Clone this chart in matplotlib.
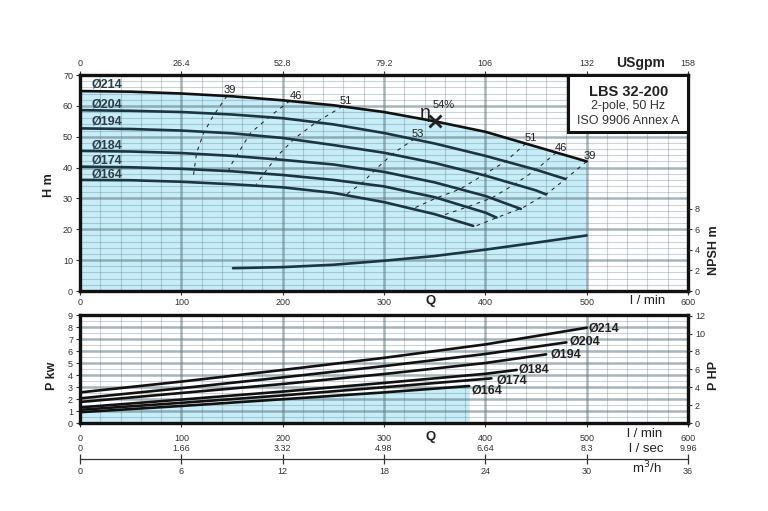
import numpy as np
import matplotlib
matplotlib.use("Agg")
import matplotlib.pyplot as plt
from matplotlib.patches import Rectangle

plt.rcParams['font.family'] = ['Liberation Sans', 'DejaVu Sans']

# ---------------- data ----------------
Q_TICKS = [0, 100, 200, 300, 400, 500, 600]
USGPM_LABELS = ["0", "26.4", "52.8", "79.2", "106", "132", "158"]
LSEC_LABELS = ["0", "1.66", "3.32", "4.98", "6.64", "8.3", "9.96"]
M3H_TICKS = [0, 6, 12, 18, 24, 30, 36]
H_TICKS = [0, 10, 20, 30, 40, 50, 60, 70]
NPSH_TICKS = [0, 2, 4, 6, 8]
P_TICKS = [0, 1, 2, 3, 4, 5, 6, 7, 8, 9]
HP_TICKS = [0, 2, 4, 6, 8, 10, 12]

DIAMETERS = ["Ø214", "Ø204", "Ø194", "Ø184", "Ø174", "Ø164"]

# head curves (Q l/min, H m)
Q214 = [0, 50, 100, 150, 200, 250, 300, 350, 400, 450, 500]
H214 = [64.8, 64.6, 64.0, 63.1, 61.8, 60.2, 58.0, 55.0, 51.6, 46.8, 42.0]
Q204 = [0, 50, 100, 150, 200, 250, 300, 350, 400, 450, 479]
H204 = [58.6, 58.4, 58.0, 57.2, 56.0, 54.0, 51.2, 47.8, 43.8, 39.3, 36.3]
Q194 = [0, 50, 100, 150, 200, 250, 300, 350, 400, 450, 460]
H194 = [52.7, 52.5, 52.0, 51.1, 49.6, 47.3, 44.8, 41.5, 37.4, 32.6, 31.3]
Q184 = [0, 50, 100, 150, 200, 250, 300, 350, 400, 435]
H184 = [45.4, 45.2, 44.7, 43.8, 42.5, 41.0, 38.6, 35.2, 30.8, 26.6]
Q174 = [0, 50, 100, 150, 200, 250, 300, 350, 400, 411]
H174 = [40.3, 40.1, 39.6, 38.8, 37.6, 36.0, 33.9, 30.4, 25.4, 23.8]
Q164 = [0, 50, 100, 150, 200, 250, 300, 350, 388]
H164 = [36.0, 35.9, 35.4, 34.6, 33.6, 31.8, 28.8, 24.9, 21.1]

# NPSH curve (Q l/min, NPSH m)
NPSH_Q = [151, 200, 250, 300, 350, 400, 450, 500]
NPSH_V = [2.22, 2.32, 2.55, 2.94, 3.40, 4.02, 4.70, 5.40]

# iso-efficiency lines (Q, H)
EFF39L_Q = [145, 131, 122, 115, 112]
EFF39L_H = [63.2, 56.5, 51.2, 44.7, 37.5]
EFF46L_Q = [207, 187, 168, 158, 148, 145]
EFF46L_H = [61.6, 56.5, 51.1, 45.7, 40.3, 37.4]
EFF51L_Q = [259, 234, 212, 194, 178, 174]
EFF51L_H = [59.8, 54.9, 49.5, 43.5, 36.5, 34.5]
EFF53_Q = [330, 309, 293, 278, 262]
EFF53_H = [49.3, 44.6, 39.8, 34.9, 31.1]
EFF51R_Q = [440, 420, 398, 375, 352, 328]
EFF51R_H = [47.8, 42.0, 37.6, 33.0, 30.2, 26.6]
EFF46R_Q = [470, 450, 429, 406, 382, 356]
EFF46R_H = [44.9, 39.3, 34.6, 30.1, 27.2, 24.3]
EFF39R_Q = [500, 481, 462, 437, 413, 390]
EFF39R_H = [42.0, 36.8, 31.8, 27.0, 24.0, 21.0]

EFF_LABELS = ["39", "46", "51", "53", "51", "46", "39"]
EFF_LABEL_Q = [148, 213, 262, 333, 445, 475, 503]
EFF_LABEL_H = [65.2, 63.3, 61.6, 50.9, 49.6, 46.3, 43.6]

BEP_Q = 350
BEP_H = 55.0
BEP_TEXT = "54%"

# power curves (Q l/min, P kW)
PQ214 = [0, 100, 200, 300, 400, 500]
P214 = [2.55, 3.45, 4.42, 5.43, 6.55, 7.94]
PQ204 = [0, 100, 200, 300, 400, 480]
P204 = [2.05, 2.90, 3.80, 4.74, 5.75, 6.72]
PQ194 = [0, 100, 200, 300, 400, 460]
P194 = [1.75, 2.50, 3.25, 4.08, 5.00, 5.72]
PQ184 = [0, 100, 200, 300, 400, 431]
P184 = [1.30, 1.95, 2.62, 3.34, 4.10, 4.42]
PQ174 = [0, 100, 200, 300, 406]
P174 = [1.10, 1.68, 2.30, 2.98, 3.72]
PQ164 = [0, 100, 200, 300, 384]
P164 = [0.90, 1.42, 1.98, 2.55, 3.08]

P_LABEL_Q = [502, 483, 464, 433, 411, 386]
P_LABEL_P = [7.9, 6.78, 5.72, 4.42, 3.53, 2.67]
H_LABEL_Q = 11
H_LABEL_H = [66.9, 60.3, 55.0, 47.3, 42.4, 37.9]

TITLE = "LBS 32-200"
SUB1 = "2-pole, 50 Hz"
SUB2 = "ISO 9906 Annex A"

# ---------------- styling ----------------
W, Hpx = 768, 511
BLUE = '#c6edf8'
DARK = '#1b3542'
GRIDC = '#5f7780'
TICKC = '#333333'

fig = plt.figure(figsize=(W / 100, Hpx / 100), dpi=100)
ax1 = fig.add_axes([80 / W, 1 - 291 / Hpx, 608 / W, 216 / Hpx])
ax2 = fig.add_axes([80 / W, 1 - 423 / Hpx, 608 / W, 108 / Hpx])


def draw_grid(ax, ymax, ystep_minor, ystep_major):
    for x in np.arange(20, 600, 20):
        major = (x % 100 == 0)
        ax.axvline(x, color=GRIDC, alpha=0.55 if major else 0.32,
                   lw=1.8 if major else 0.8, zorder=1)
    for y in np.arange(ystep_minor, ymax, ystep_minor):
        major = abs((y / ystep_major) - round(y / ystep_major)) < 1e-6
        ax.axhline(y, color=GRIDC, alpha=0.55 if major else 0.32,
                   lw=1.8 if major else 0.8, zorder=1)


def style_spines(ax):
    for s in ax.spines.values():
        s.set_linewidth(2.4)
        s.set_color('#111111')
        s.set_zorder(6)


# ---------------- top panel ----------------
ax1.set_xlim(0, 600)
ax1.set_ylim(0, 70)
ax1.fill_between(Q214, H214, 0, color=BLUE, lw=0, zorder=0)
draw_grid(ax1, 70, 2, 10)

head_q = [Q214, Q204, Q194, Q184, Q174, Q164]
head_h = [H214, H204, H194, H184, H174, H164]
for i, (q, h) in enumerate(zip(head_q, head_h)):
    ax1.plot(q, h, color='#111111' if i == 0 else DARK, lw=1.9,
             solid_joinstyle='round', solid_capstyle='round', zorder=4)
    ax1.text(H_LABEL_Q, H_LABEL_H[i], DIAMETERS[i], fontsize=9,
             fontweight='bold', color='#2b3d47', ha='left', va='center', zorder=5)

for q, h in [(EFF39L_Q, EFF39L_H), (EFF46L_Q, EFF46L_H), (EFF51L_Q, EFF51L_H),
             (EFF53_Q, EFF53_H), (EFF51R_Q, EFF51R_H), (EFF46R_Q, EFF46R_H),
             (EFF39R_Q, EFF39R_H)]:
    ax1.plot(q, h, color='#222222', lw=0.75, ls=(0, (3.5, 4.5)), zorder=3)

for lab, q, h in zip(EFF_LABELS, EFF_LABEL_Q, EFF_LABEL_H):
    ax1.text(q, h, lab, fontsize=8, color='#222222', ha='center', va='center', zorder=5)

ax1.plot([BEP_Q], [BEP_H], marker='x', ms=8, mew=2, color='#222222', zorder=5)
ax1.text(BEP_Q - 9, BEP_H + 2.6, "η", fontsize=14, color='#222222',
         ha='center', va='center', zorder=5)
ax1.text(BEP_Q + 9, BEP_H + 5.3, BEP_TEXT, fontsize=8, color='#222222',
         ha='center', va='center', zorder=5)

# title box
ax1.add_patch(Rectangle((482, 51.5), 118, 18.5, facecolor='white',
                        edgecolor='#111111', lw=2.2, zorder=7))
ax1.text(541, 64.6, TITLE, fontsize=10.5, fontweight='bold', color='#222222',
         ha='center', va='center', zorder=8)
ax1.text(541, 59.9, SUB1, fontsize=9, color='#333333', ha='center', va='center', zorder=8)
ax1.text(541, 55.1, SUB2, fontsize=9, color='#333333', ha='center', va='center', zorder=8)

ax1.set_xticks(Q_TICKS)
ax1.set_yticks(H_TICKS)
ax1.tick_params(axis='both', labelsize=6.5, colors=TICKC, length=3, width=0.8, pad=2)
style_spines(ax1)
ax1.set_ylabel("H m", fontsize=9, fontweight='bold', color='#222222')
ax1.yaxis.set_label_coords(-0.041, 0.49)
xt = ax1.get_xaxis_transform()
ax1.text(346, -0.045, "Q", transform=xt, fontsize=9.5, fontweight='bold',
         ha='center', va='center', color='#222222')
ax1.text(560, -0.045, "l / min", transform=xt, fontsize=9.5,
         ha='center', va='center', color='#222222')

top = ax1.secondary_xaxis('top')
top.set_xticks(Q_TICKS, labels=USGPM_LABELS)
top.tick_params(labelsize=6.5, colors=TICKC, length=3, width=0.8, pad=2)
top.spines['top'].set_visible(False)
ax1.text(553, 1.055, "USgpm", transform=xt, fontsize=10, fontweight='bold',
         ha='center', va='center', color='#222222')

ax1r = ax1.twinx()
ax1r.set_ylim(0, 21)
ax1r.set_yticks(NPSH_TICKS)
ax1r.plot(NPSH_Q, NPSH_V, color=DARK, lw=1.9, solid_capstyle='round', zorder=4)
ax1r.tick_params(axis='y', labelsize=6.5, colors=TICKC, length=3, width=0.8, pad=2)
for s in ax1r.spines.values():
    s.set_visible(False)
ax1r.text(1.042, 0.19, "NPSH m", transform=ax1r.transAxes, rotation=90,
          fontsize=9, fontweight='bold', ha='center', va='center', color='#222222')

# ---------------- bottom panel ----------------
ax2.set_xlim(0, 600)
ax2.set_ylim(0, 9)
ax2.fill_between(PQ164, P164, 0, color=BLUE, lw=0, zorder=0)
draw_grid(ax2, 9, 0.5, 1)
pow_q = [PQ214, PQ204, PQ194, PQ184, PQ174, PQ164]
pow_p = [P214, P204, P194, P184, P174, P164]
for i, (q, p) in enumerate(zip(pow_q, pow_p)):
    ax2.plot(q, p, color='#111111', lw=1.9, solid_joinstyle='round',
             solid_capstyle='round', zorder=4)
    ax2.text(P_LABEL_Q[i], P_LABEL_P[i], DIAMETERS[i], fontsize=9,
             fontweight='bold', color='#222222', ha='left', va='center', zorder=5)

ax2.set_xticks(Q_TICKS)
ax2.set_yticks(P_TICKS)
ax2.tick_params(axis='x', labelsize=6.5, colors=TICKC, length=3, width=0.8, pad=5)
ax2.tick_params(axis='y', labelsize=6.5, colors=TICKC, length=3, width=0.8, pad=2)
style_spines(ax2)
ax2.set_ylabel("P kw", fontsize=9, fontweight='bold', color='#222222')
ax2.yaxis.set_label_coords(-0.036, 0.44)

xt2 = ax2.get_xaxis_transform()
ax2.text(346, -0.13, "Q", transform=xt2, fontsize=9.5, fontweight='bold',
         ha='center', va='center', color='#222222')
ax2.text(557, -0.105, "l / min", transform=xt2, fontsize=9.5,
         ha='center', va='center', color='#222222')
for q, lab in zip(Q_TICKS, LSEC_LABELS):
    ax2.text(q, -0.24, lab, transform=xt2, fontsize=6.5, color=TICKC,
             ha='center', va='center')
ax2.text(559, -0.245, "l / sec", transform=xt2, fontsize=9.5,
         ha='center', va='center', color='#222222')

m3 = ax2.secondary_xaxis(-0.333, functions=(lambda q: np.asarray(q) * 0.06,
                                             lambda m: np.asarray(m) / 0.06))
m3.set_xticks(M3H_TICKS)
m3.tick_params(labelsize=6.5, colors=TICKC, direction='inout', length=7,
               width=0.9, pad=2)
m3.spines['bottom'].set_linewidth(0.9)
m3.spines['bottom'].set_color('#333333')
ax2.text(559, -0.42, "m$^3$/h", transform=xt2, fontsize=9.5,
         ha='center', va='center', color='#222222')

ax2r = ax2.twinx()
ax2r.set_ylim(0, 9 * 1.341)
ax2r.set_yticks(HP_TICKS)
ax2r.tick_params(axis='y', labelsize=6.5, colors=TICKC, length=3, width=0.8, pad=2)
for s in ax2r.spines.values():
    s.set_visible(False)
ax2r.text(1.042, 0.44, "P HP", transform=ax2r.transAxes, rotation=90,
          fontsize=9, fontweight='bold', ha='center', va='center', color='#222222')

fig.savefig("out.png", dpi=100)
